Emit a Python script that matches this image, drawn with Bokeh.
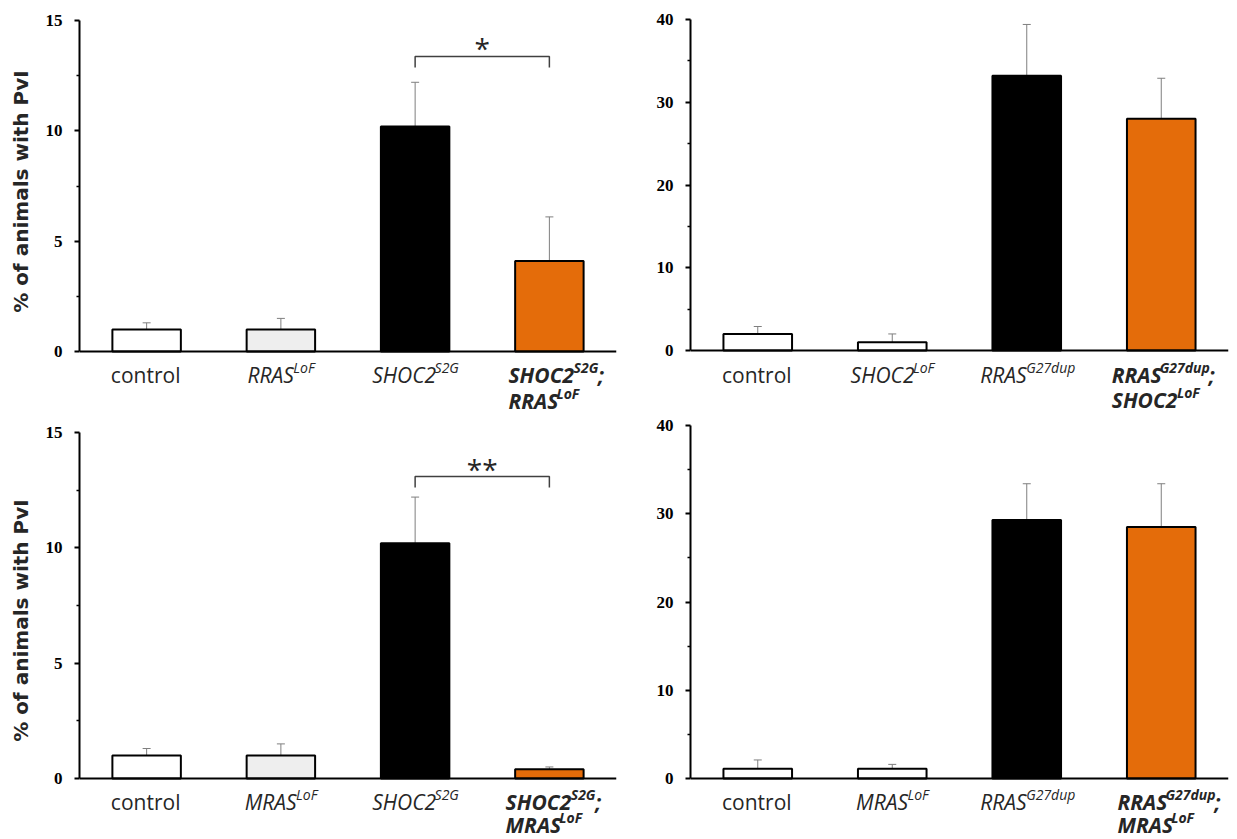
import math
from bokeh.plotting import figure
from bokeh.models import Range1d, FixedTicker, ColumnDataSource
from bokeh.layouts import column, row
from bokeh.embed import file_html
from bokeh.resources import INLINE
from bokeh.core.properties import value

# ---------------- data ----------------
ORANGE = "#e46c0a"

# top left
p1_values = [1.0, 1.0, 10.2, 4.1]
p1_errors = [0.3, 0.5, 2.0, 2.0]
p1_fills = ["#ffffff", "#eeeeee", "#000000", ORANGE]
p1_labels = [
    [[("control", 0)]],
    [[("RRAS", 0), ("LoF", 1)]],
    [[("SHOC2", 0), ("S2G", 1)]],
    [[("SHOC2", 0), ("S2G", 1), (";", 0)], [("RRAS", 0), ("LoF", 1)]],
]
p1_styles = ["normal", "italic", "italic", "bold italic"]
p1_sig = (2, 3, 13.37, "*")

# top right
p2_values = [2.0, 1.0, 33.2, 28.0]
p2_errors = [0.9, 1.0, 6.2, 4.9]
p2_fills = ["#ffffff", "#ffffff", "#000000", ORANGE]
p2_labels = [
    [[("control", 0)]],
    [[("SHOC2", 0), ("LoF", 1)]],
    [[("RRAS", 0), ("G27dup", 1)]],
    [[("RRAS", 0), ("G27dup", 1), (";", 0)], [("SHOC2", 0), ("LoF", 1)]],
]
p2_styles = ["normal", "italic", "italic", "bold italic"]
p2_sig = None

# bottom left
p3_values = [1.0, 1.0, 10.2, 0.4]
p3_errors = [0.3, 0.5, 2.0, 0.1]
p3_fills = ["#ffffff", "#eeeeee", "#000000", ORANGE]
p3_labels = [
    [[("control", 0)]],
    [[("MRAS", 0), ("LoF", 1)]],
    [[("SHOC2", 0), ("S2G", 1)]],
    [[("SHOC2", 0), ("S2G", 1), (";", 0)], [("MRAS", 0), ("LoF", 1)]],
]
p3_styles = ["normal", "italic", "italic", "bold italic"]
p3_sig = (2, 3, 13.09, "**")

# bottom right
p4_values = [1.1, 1.1, 29.3, 28.5]
p4_errors = [1.0, 0.5, 4.1, 4.9]
p4_fills = ["#ffffff", "#ffffff", "#000000", ORANGE]
p4_labels = [
    [[("control", 0)]],
    [[("MRAS", 0), ("LoF", 1)]],
    [[("RRAS", 0), ("G27dup", 1)]],
    [[("RRAS", 0), ("G27dup", 1), (";", 0)], [("MRAS", 0), ("LoF", 1)]],
]
p4_styles = ["normal", "italic", "italic", "bold italic"]
p4_sig = None

Y_LABEL = "% of animals with PvI"

# ---------------- styling ----------------
FONT = "Open Sans"
BASE_SIZE = 21
SUP_SIZE = 14
SUP_RAISE = 7
TEXT_COLOR = "#262626"
TOP_H = 413
BOT_H = 425

CW = {'R': 0.615, 'A': 0.633, 'S': 0.539, 'H': 0.740, 'O': 0.781, 'C': 0.631,
      '2': 0.572, '7': 0.572, 'M': 0.903, 'L': 0.524, 'o': 0.602, 'F': 0.516,
      'G': 0.728, 'd': 0.604, 'u': 0.614, 'p': 0.604, ';': 0.266, 'c': 0.544,
      'n': 0.613, 't': 0.361, 'r': 0.408, 'l': 0.275}
STYLE_FACTOR = {"normal": 1.0, "italic": 0.91, "bold italic": 0.95}


def text_width(s, size, style):
    return sum(CW.get(c, 0.6) for c in s) * size * STYLE_FACTOR[style]


def make_panel(values, errors, fills, labels, styles, ymax, ystep, sig,
               width, height, fl, fr, y0, k, baselines):
    n = len(values)
    frame_w = width - fl - fr
    dx_per_px = n / frame_w
    y_start = -(height - y0) / k
    y_end = y0 / k
    p = figure(width=width, height=height,
               x_range=Range1d(-0.5, n - 0.5), y_range=Range1d(y_start, y_end),
               output_backend="svg", toolbar_location=None, x_axis_location=None,
               min_border_left=fl, min_border_right=fr,
               min_border_top=0, min_border_bottom=0)
    p.outline_line_color = None
    p.grid.visible = False
    p.background_fill_color = "white"
    p.border_fill_color = "white"

    ax = p.yaxis[0]
    ax.bounds = (0, ymax)
    ax.ticker = FixedTicker(ticks=list(range(0, ymax + 1, ystep)),
                            minor_ticks=[ystep / 2 + i * ystep for i in range(ymax // ystep)])
    ax.axis_line_width = 2
    ax.axis_line_color = "black"
    ax.major_tick_out = 5
    ax.major_tick_in = 0
    ax.minor_tick_out = 3
    ax.minor_tick_in = 0
    ax.major_tick_line_width = 2
    ax.minor_tick_line_width = 1.5
    ax.major_label_text_font = "Liberation Serif"
    ax.major_label_text_font_style = "bold"
    ax.major_label_text_font_size = "17px"
    ax.major_label_text_color = "black"
    ax.major_label_standoff = 12

    xs = list(range(n))
    src = ColumnDataSource(dict(x=xs, top=values, fill=fills,
                                etop=[v + e for v, e in zip(values, errors)]))
    cap = 4 * dx_per_px
    p.segment(x0="x", y0="top", x1="x", y1="etop", source=src,
              line_color="#7f7f7f", line_width=1)
    p.segment(x0=[x - cap for x in xs], y0=src.data["etop"],
              x1=[x + cap for x in xs], y1=src.data["etop"],
              line_color="#7f7f7f", line_width=1)
    p.vbar(x="x", top="top", bottom=0, width=0.51, source=src,
           fill_color="fill", line_color="black", line_width=2)
    p.segment(x0=[-0.5], y0=[0], x1=[n - 0.5], y1=[0], line_color="black", line_width=2)

    if sig is not None:
        i, j, h, txt = sig
        drop = 11 / k
        p.line(x=[i, i, j, j], y=[h - drop, h, h, h - drop],
               line_color="#404040", line_width=1.5)
        p.text(x=[(i + j) / 2], y=[h], text=[txt], text_align="center",
               text_baseline="alphabetic", y_offset=-8,
               text_font=value(FONT), text_font_size="28px", text_color="#262626")

    groups = {}
    for ci, (lab, style) in enumerate(zip(labels, styles)):
        widths = [sum(text_width(s, SUP_SIZE if sp else BASE_SIZE, style) for s, sp in line)
                  for line in lab]
        if len(lab) == 1:
            start = -widths[0] / 2
        else:
            start = -min(widths) / 2 - 6
        for li, line in enumerate(lab):
            off = start
            for s, sp in line:
                size = SUP_SIZE if sp else BASE_SIZE
                yoff = baselines[li] - (SUP_RAISE if sp else 0)
                g = groups.setdefault((style, size), dict(x=[], y=[], text=[], xo=[], yo=[]))
                g["x"].append(ci)
                g["y"].append(0)
                g["text"].append(s)
                g["xo"].append(off)
                g["yo"].append(yoff)
                off += text_width(s, size, style)
    for (style, size), g in groups.items():
        p.text(x="x", y="y", text="text", x_offset="xo", y_offset="yo",
               source=ColumnDataSource(g), text_align="left", text_baseline="alphabetic",
               text_font=value(FONT), text_font_style=style,
               text_font_size=f"{size}px", text_color=TEXT_COLOR)
    return p


def ylabel_fig(width, height, cx, cy_from_top):
    p = figure(width=width, height=height, x_range=Range1d(0, width),
               y_range=Range1d(0, height), output_backend="svg", toolbar_location=None,
               x_axis_location=None, y_axis_location=None, min_border=0)
    p.outline_line_color = None
    p.grid.visible = False
    p.text(x=[cx], y=[height - cy_from_top], text=[Y_LABEL], angle=math.pi / 2,
           text_align="center", text_baseline="middle", text_font=value("DejaVu Sans"),
           text_font_style="bold", text_font_size="20px", text_color=TEXT_COLOR)
    return p


l1 = ylabel_fig(40, TOP_H, 20, 191)
p1 = make_panel(p1_values, p1_errors, p1_fills, p1_labels, p1_styles, 15, 5, p1_sig,
                578, TOP_H, 39, 2, 351, 331 / 15, [23, 49])
p2 = make_panel(p2_values, p2_errors, p2_fills, p2_labels, p2_styles, 40, 10, p2_sig,
                618, TOP_H, 72, 8, 350, 331 / 40, [24, 49])
l3 = ylabel_fig(40, BOT_H, 20, 620 - TOP_H)
p3 = make_panel(p3_values, p3_errors, p3_fills, p3_labels, p3_styles, 15, 5, p3_sig,
                578, BOT_H, 39, 2, 778 - TOP_H, 346 / 15, [23, 46])
p4 = make_panel(p4_values, p4_errors, p4_fills, p4_labels, p4_styles, 40, 10, p4_sig,
                618, BOT_H, 72, 8, 778 - TOP_H, 353 / 40, [23, 46])

layout = column(row(l1, p1, p2), row(l3, p3, p4))
open("out.html", "w").write(file_html(layout, INLINE))
